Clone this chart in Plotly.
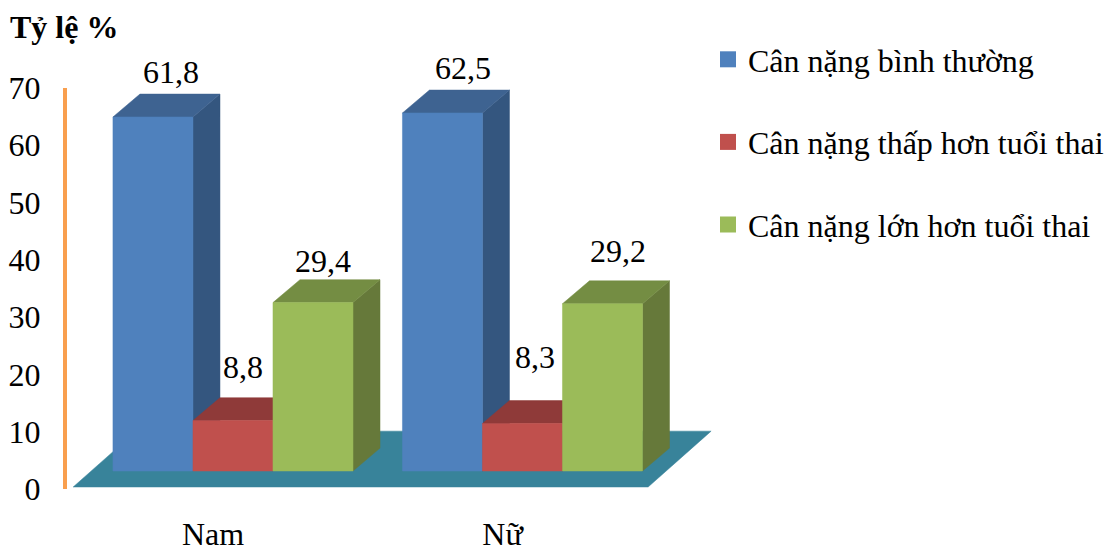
import plotly.graph_objects as go

# Chart values
groups = ["Nam", "Nữ"]
series_names = ["Cân nặng bình thường", "Cân nặng thấp hơn tuổi thai", "Cân nặng lớn hơn tuổi thai"]
normal_weight = [61.8, 62.5]
low_weight = [8.8, 8.3]
high_weight = [29.4, 29.2]
y_ticks = [0, 10, 20, 30, 40, 50, 60, 70]

# Oblique projection used for the pseudo-3D columns (axis units)
BAR_W = 0.2764
GROUP_OFFSET = 0.069
BASE_LIFT = 3.14
DEPTH_X = 0.0933
DEPTH_Y = 4.0
FLOOR_LEFT, FLOOR_RIGHT = -0.483, 1.503
FLOOR_FRONT, FLOOR_BACK = 0.35, 10.1
FLOOR_DX = 0.2176

FONT = "Liberation Serif"
FONT_SIZE = 32
FRONT = ["#4F81BD", "#C0504D", "#9BBB59"]
TOP = ["#3E6391", "#8F3A39", "#748D43"]
SIDE = ["#34567F", "#8F3A39", "#66793A"]
FLOOR = "#38839A"
AXIS_ORANGE = "#F99F4E"

# Pixel nudges for the value labels, one row per series
LABEL_SHIFT = [
    [(5, 2), (7, 2)],
    [(-3, 11), (-1, 24)],
    [(-4, -1), (2, 10)],
]

fig = go.Figure()


def face(xs, ys, color):
    fig.add_trace(go.Scatter(
        x=xs + xs[:1], y=ys + ys[:1], mode="lines", fill="toself",
        fillcolor=color, line=dict(color=color, width=0.5),
        hoverinfo="skip", showlegend=False,
    ))


face(
    [FLOOR_LEFT, FLOOR_RIGHT, FLOOR_RIGHT + FLOOR_DX, FLOOR_LEFT + FLOOR_DX],
    [FLOOR_FRONT, FLOOR_FRONT, FLOOR_BACK, FLOOR_BACK],
    FLOOR,
)

annotations = []
for g in range(len(groups)):
    for s, values in enumerate([normal_weight, low_weight, high_weight]):
        x0 = g + GROUP_OFFSET + (s - 1.5) * BAR_W
        x1 = x0 + BAR_W
        y0 = BASE_LIFT
        y1 = BASE_LIFT + values[g]
        face([x1, x1 + DEPTH_X, x1 + DEPTH_X, x1], [y0, y0 + DEPTH_Y, y1 + DEPTH_Y, y1], SIDE[s])
        face([x0, x1, x1 + DEPTH_X, x0 + DEPTH_X], [y1, y1, y1 + DEPTH_Y, y1 + DEPTH_Y], TOP[s])
        face([x0, x1, x1, x0], [y0, y0, y1, y1], FRONT[s])
        dx, dy = LABEL_SHIFT[s][g]
        annotations.append(dict(
            x=(x0 + x1 + DEPTH_X) / 2, y=y1 + DEPTH_Y, xref="x", yref="y",
            text=f"{values[g]}".replace(".", ","), showarrow=False,
            yanchor="bottom", xshift=dx, yshift=dy,
            font=dict(family=FONT, size=FONT_SIZE, color="black"),
        ))

# Legend entries with square keys, one group each so the gap can be set
for s, name in enumerate(series_names):
    fig.add_trace(go.Scatter(
        x=[None], y=[None], mode="markers", name=name, legendgroup=name,
        marker=dict(symbol="square", size=18, color=FRONT[s]),
    ))

fig.update_layout(
    width=1113, height=551, autosize=False,
    margin=dict(l=67, r=393, t=88, b=62, pad=0, autoexpand=False),
    paper_bgcolor="white", plot_bgcolor="white",
    font=dict(family=FONT, size=FONT_SIZE, color="black"),
    title=dict(
        text="<b>Tỷ lệ %</b>", x=10 / 1113, y=1 - 27 / 551,
        xanchor="left", yanchor="middle", xref="container", yref="container",
        font=dict(family=FONT, size=FONT_SIZE, color="black"),
    ),
    xaxis=dict(
        range=[-146 / 289.5, 507 / 289.5], tickmode="array", tickvals=[0, 1], ticktext=groups,
        showgrid=False, zeroline=False, showline=False, automargin=False,
        ticks="outside", ticklen=17, tickcolor="rgba(0,0,0,0)",
    ),
    yaxis=dict(
        range=[0, 70], tickmode="array", tickvals=y_ticks,
        showgrid=False, zeroline=False, showline=True, automargin=False,
        linecolor=AXIS_ORANGE, linewidth=4,
        ticks="outside", ticklen=16, tickcolor="rgba(0,0,0,0)",
    ),
    legend=dict(
        xref="container", yref="container", x=708 / 1113, y=1 - 32 / 551,
        xanchor="left", yanchor="top", tracegroupgap=38,
        bgcolor="rgba(0,0,0,0)", font=dict(family=FONT, size=FONT_SIZE, color="black"),
    ),
    annotations=annotations,
)

fig.write_html("out.html")
